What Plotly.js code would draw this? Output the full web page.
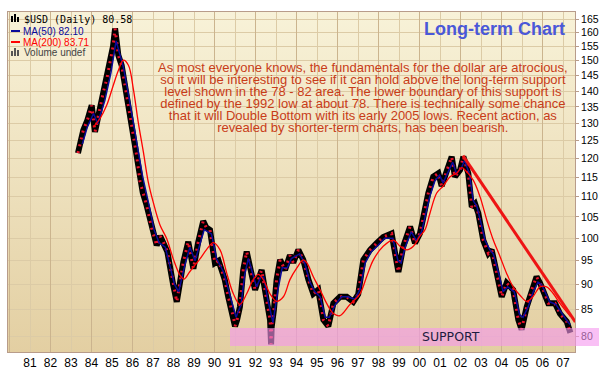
<!DOCTYPE html>
<html><head><meta charset="utf-8">
<script src="https://cdn.plot.ly/plotly-3.0.1.min.js"></script>
<style>
body{margin:0;background:#fff;}
#wrap{position:relative;width:599px;height:372px;overflow:hidden;}
#bg{position:absolute;left:8px;top:12px;width:567px;height:340px;background:linear-gradient(to bottom,#f8f2d8,#e3cfa2);}
#chart{position:absolute;left:0;top:0;width:599px;height:372px;}
</style></head><body>
<div id="wrap"><div id="bg"></div><div id="chart"></div></div>
<script>
// ---- data (decimal years / index values) ----
const priceX = [1983.34,1983.45,1983.60,1983.8,1984.01,1984.17,1984.35,1984.58,1984.75,1984.90,1985.05,1985.15,1985.22,1985.31,1985.47,1985.6,1985.72,1985.96,1986.20,1986.37,1986.5,1986.69,1986.94,1987.18,1987.35,1987.50,1987.7,1987.99,1988.16,1988.3,1988.48,1988.72,1988.97,1989.2,1989.45,1989.6,1989.78,1990.02,1990.2,1990.35,1990.5,1990.67,1990.92,1991.0,1991.1,1991.24,1991.40,1991.57,1991.73,1991.98,1992.14,1992.30,1992.46,1992.6,1992.71,1992.76,1992.79,1992.9,1993.03,1993.20,1993.44,1993.68,1993.84,1994.09,1994.33,1994.58,1994.82,1995.06,1995.2,1995.31,1995.55,1995.8,1996.12,1996.45,1996.77,1997.01,1997.26,1997.59,1997.91,1998.23,1998.64,1998.89,1998.97,1999.21,1999.54,1999.78,2000.02,2000.19,2000.43,2000.67,2000.92,2001.08,2001.33,2001.57,2001.73,2001.98,2002.14,2002.38,2002.55,2002.71,2002.87,2003.11,2003.36,2003.52,2003.77,2004.01,2004.25,2004.57,2004.82,2004.98,2005.23,2005.47,2005.71,2005.88,2006.12,2006.28,2006.61,2006.85,2007.18,2007.36];
const priceY = [121.5,124.5,128,131,135.5,127.5,133,139.7,144,149.6,155,161.5,157,151.9,148.5,143,138.6,129.5,120.9,113.7,111,107.8,102.2,98.4,100.5,99.2,97,89.8,86.5,90,94.7,99.2,93.3,99,104,102.5,101.9,94.5,95,93.0,91,87.5,83.6,81.8,83,85.5,93.0,97.0,93.7,88.9,91.0,93.0,88.9,85,83.0,78.5,81.7,85,91.0,95.2,93.0,96.2,94.6,97.4,95.2,91.0,88.1,88.9,86,83.0,81.8,86.2,87.5,87.5,86.5,88,95.2,97.4,98.9,100.3,101.1,94.6,92.6,98.2,102.7,98.9,101.1,105,110.9,115.1,116.0,112.7,116.9,120.5,115.1,116.9,120.5,116.0,107.4,108.2,105.9,99.6,96.6,97.4,92.3,87.5,90.3,88.9,83.0,81.2,85.5,88.9,91.6,90.3,88.1,86.2,86.2,84.2,82.7,80.6];

const ma50X = [1983.55,1983.8,1984.1,1984.3,1984.65,1984.95,1985.2,1985.35,1985.55,1985.8,1986.05,1986.3,1986.5,1986.8,1987.05,1987.3,1987.6,1988.05,1988.25,1988.55,1988.8,1989.05,1989.5,1989.85,1990.1,1990.45,1990.75,1991.05,1991.3,1991.47,1991.65,1991.85,1992.05,1992.25,1992.4,1992.6,1992.85,1993.1,1993.3,1993.55,1993.75,1994.15,1994.4,1994.65,1994.9,1995.15,1995.4,1995.6,1995.9,1996.2,1996.5,1996.85,1997.1,1997.35,1997.65,1998.0,1998.3,1998.7,1998.95,1999.1,1999.3,1999.6,1999.85,2000.1,2000.25,2000.5,2000.75,2000.98,2001.15,2001.4,2001.62,2001.8,2002.05,2002.2,2002.45,2002.62,2002.8,2003.0,2003.2,2003.42,2003.6,2003.85,2004.08,2004.3,2004.62,2004.88,2005.05,2005.3,2005.55,2005.78,2005.95,2006.18,2006.35,2006.65,2006.9,2007.2,2007.36];
const ma50Y = [124,129,133,130,137,146,157,153,148,139,130,121,115,108,102,99,98,90,88.5,94,98,95,102,101,95.5,92.5,88,83.5,86,92,95.5,92.5,89.5,91.5,91.5,87,82.5,89,93.5,93.5,95.5,96.5,94.5,90.5,88.5,87.5,83.5,83.5,86,87.5,87.5,87,89,94.5,97,98.5,100,100,95,94.5,98,101.5,99.5,101.5,104.5,110,114,115.5,113.5,116.5,119,116,117.5,119.5,115.5,109,107.5,103.5,99.5,97.5,96.5,92.5,88.5,89.5,88.5,84,83.5,85.5,88.5,90.5,90,88,86.5,86,84.5,82.8,82.1];

const ma200X = [1984.09,1984.41,1984.74,1985.06,1985.31,1985.55,1985.80,1986.04,1986.28,1986.53,1986.77,1987.01,1987.34,1987.67,1987.99,1988.32,1988.51,1988.80,1989.29,1989.62,1989.94,1990.27,1990.60,1990.92,1991.24,1991.57,1991.89,1992.14,1992.38,1992.71,1993.03,1993.36,1993.68,1994.01,1994.33,1994.50,1994.82,1995.15,1995.47,1995.80,1996.12,1996.61,1997.10,1997.42,1997.75,1998.23,1998.72,1999.05,1999.38,1999.70,2000.02,2000.27,2000.51,2000.84,2001.16,2001.49,2001.81,2002.06,2002.22,2002.62,2002.95,2003.28,2003.60,2003.93,2004.25,2004.57,2004.90,2005.23,2005.53,2005.88,2006.20,2006.53,2006.85,2007.36];
const ma200Y = [129.0,131.4,135.5,141.8,146.7,150.2,148.5,140.7,130.4,121.8,113.7,108.6,103.1,99.9,95.4,91.9,91.1,92.7,95.4,97.5,99.0,97.4,92.3,88.1,86.0,88.1,91.0,92.1,91.0,88.1,86.6,87.5,91.0,93.4,95.2,94.6,91.6,88.9,86.2,84.2,83.8,86.0,88.1,91.6,95.2,98.2,99.6,98.2,97.4,98.2,100.5,102.0,105.9,110.9,112.7,115.1,116.0,117.5,116.9,114.2,110.0,104.3,99.6,95.9,92.3,89.5,87.8,86.6,87.5,89.5,89.5,88.1,86.2,83.7];

const trendX = [2002.12, 2007.6];
const trendY = [120.8, 82.6];

const yearTicks = [1981,1982,1983,1984,1985,1986,1987,1988,1989,1990,1991,1992,1993,1994,1995,1996,1997,1998,1999,2000,2001,2002,2003,2004,2005,2006,2007];
const yearLabels = ['81','82','83','84','85','86','87','88','89','90','91','92','93','94','95','96','97','98','99','00','01','02','03','04','05','06','07'];
const evenYears = [1980,1982,1984,1986,1988,1990,1992,1994,1996,1998,2000,2002,2004,2006];
const priceTicks = [80,85,90,95,100,105,110,115,120,125,130,135,140,145,150,155,160,165];

const headerText = '$USD (Daily) 80.58';
const ma50Text = 'MA(50) 82.10';
const ma200Text = 'MA(200) 83.71';
const volText = 'Volume undef';
const titleText = 'Long-term Chart';
const supportText = 'SUPPORT';
const noteLines = [
 'As most everyone knows, the fundamentals for the dollar are atrocious,',
 'so it will be interesting to see if it can hold above the long-term support',
 'level shown in the 78 - 82 area. The lower boundary of this support is',
 'defined by the 1992 low at about 78. There is technically some chance',
 'that it will Double Bottom with its early 2005 lows. Recent action, as',
 'revealed by shorter-term charts, has been bearish.'
];

// ---- layout helpers (pixel -> paper) ----
const L=8, T=12, W=567, H=340;
const px = x => (x-L)/W;
const py = y => (T+H-y)/H;

const traces = [
  {x:[evenYears[0]], y:[100], xaxis:'x2', yaxis:'y', mode:'markers', marker:{opacity:0}, hoverinfo:'skip', showlegend:false},
  {x:priceX, y:priceY, mode:'lines', line:{color:'#000000', width:6}, showlegend:false},
  {x:priceX, y:priceY, mode:'lines', line:{color:'#e8102a', width:3, dash:'2px,5px'}, showlegend:false},
  {x:ma50X, y:ma50Y, mode:'lines', line:{color:'#0a0a9a', width:1.5}, showlegend:false},
  {x:ma200X, y:ma200Y, mode:'lines', line:{color:'#ff0000', width:1.3, shape:'spline'}, showlegend:false},
  {x:trendX, y:trendY, mode:'lines', line:{color:'#ee1414', width:3}, showlegend:false}
];

const xr = [1981 + (L-30)/20.5, 1981 + (L+W-30)/20.5];
const yr = [Math.log10(80) - (T+H-336)/1008, Math.log10(80) + (336-T)/1008];

const annotations = [
  {text:headerText, xref:'paper', yref:'paper', x:px(22), y:py(19), xanchor:'left', yanchor:'middle', showarrow:false, font:{family:'DejaVu Sans Mono', size:10, color:'#000'}},
  {text:ma50Text, xref:'paper', yref:'paper', x:px(21), y:py(31), xanchor:'left', yanchor:'middle', showarrow:false, font:{family:'Liberation Sans, Arial', size:10, color:'#0a0a9a'}},
  {text:ma200Text, xref:'paper', yref:'paper', x:px(21), y:py(42), xanchor:'left', yanchor:'middle', showarrow:false, font:{family:'Liberation Sans, Arial', size:10, color:'#ff0000'}},
  {text:volText, xref:'paper', yref:'paper', x:px(22), y:py(52), xanchor:'left', yanchor:'middle', showarrow:false, font:{family:'Liberation Sans, Arial', size:10, color:'#444'}},
  {text:'<b>'+titleText+'</b>', xref:'paper', yref:'paper', x:px(567), y:py(29), xanchor:'right', yanchor:'middle', showarrow:false, font:{family:'Liberation Sans, Arial', size:18, color:'#4a58d8'}},
  {text:supportText, xref:'paper', yref:'paper', x:px(451), y:py(336.5), xanchor:'center', yanchor:'middle', showarrow:false, font:{family:'DejaVu Sans', size:12.5, color:'#1c1c40'}},
  {text:noteLines.join('<br>'), xref:'paper', yref:'paper', x:px(363), y:py(58), xanchor:'center', yanchor:'top', align:'center', showarrow:false, font:{family:'Liberation Sans, Arial', size:13, color:'#c83c18'}}
];
const NOTE_INDEX = annotations.length - 1;

const shapes = [
  {type:'rect', xref:'paper', yref:'paper', x0:px(230), x1:px(599), y0:py(346), y1:py(328), fillcolor:'rgb(245,150,238)', opacity:0.6, line:{width:0}, layer:'above'},
  {type:'line', xref:'paper', yref:'paper', x0:px(11), x1:px(20), y0:py(31), y1:py(31), line:{color:'#0a0a9a', width:2}},
  {type:'line', xref:'paper', yref:'paper', x0:px(11), x1:px(20), y0:py(42), y1:py(42), line:{color:'#ff0000', width:2}},
  {type:'rect', xref:'paper', yref:'paper', x0:px(11), x1:px(13), y0:py(22), y1:py(16), fillcolor:'#000', line:{width:0}},
  {type:'rect', xref:'paper', yref:'paper', x0:px(14), x1:px(16), y0:py(22), y1:py(14), fillcolor:'#000', line:{width:0}},
  {type:'rect', xref:'paper', yref:'paper', x0:px(17), x1:px(19), y0:py(22), y1:py(17), fillcolor:'#000', line:{width:0}},
  {type:'rect', xref:'paper', yref:'paper', x0:px(11), x1:px(13), y0:py(56), y1:py(51), fillcolor:'#555', line:{width:0}},
  {type:'rect', xref:'paper', yref:'paper', x0:px(14), x1:px(16), y0:py(56), y1:py(48), fillcolor:'#555', line:{width:0}},
  {type:'rect', xref:'paper', yref:'paper', x0:px(17), x1:px(19), y0:py(56), y1:py(50), fillcolor:'#555', line:{width:0}}
];

const layout = {
  width:599, height:372,
  margin:{l:L, r:599-L-W, t:T, b:372-T-H},
  paper_bgcolor:'rgba(0,0,0,0)', plot_bgcolor:'rgba(0,0,0,0)',
  showlegend:false,
  xaxis:{range:xr, tickmode:'array', tickvals:yearTicks, ticktext:yearLabels, showgrid:true, gridcolor:'#dccba6', gridwidth:1,
         ticks:'', tickfont:{family:'Liberation Sans, Arial', size:12, color:'#000'}, showline:true, linecolor:'#b89c8a', mirror:true, zeroline:false},
  xaxis2:{range:xr, overlaying:'x', tickmode:'array', tickvals:evenYears, showticklabels:false, showgrid:true, gridcolor:'#cbb48e', ticks:'', zeroline:false},
  yaxis:{type:'log', range:yr, side:'right', tickmode:'array', tickvals:priceTicks, ticktext:priceTicks.map(String),
         showgrid:true, gridcolor:'#dccba6', ticks:'outside', ticklen:3, tickcolor:'#b89c8a',
         tickfont:{family:'Liberation Sans, Arial', size:10.5, color:'#000'}, showline:true, linecolor:'#b89c8a', mirror:true, zeroline:false},
  annotations:annotations,
  shapes:shapes
};

Plotly.newPlot('chart', traces, layout, {staticPlot:true, displayModeBar:false}).then(gd => {
  // tighten the paragraph's line spacing to match the reference (12px per line)
  const g = gd.querySelectorAll('.annotation')[NOTE_INDEX];
  if (g) g.querySelectorAll('tspan.line').forEach((t,i) => { if (i>0) t.setAttribute('dy', (12*i)+'px'); });
});
</script>
</body></html>
